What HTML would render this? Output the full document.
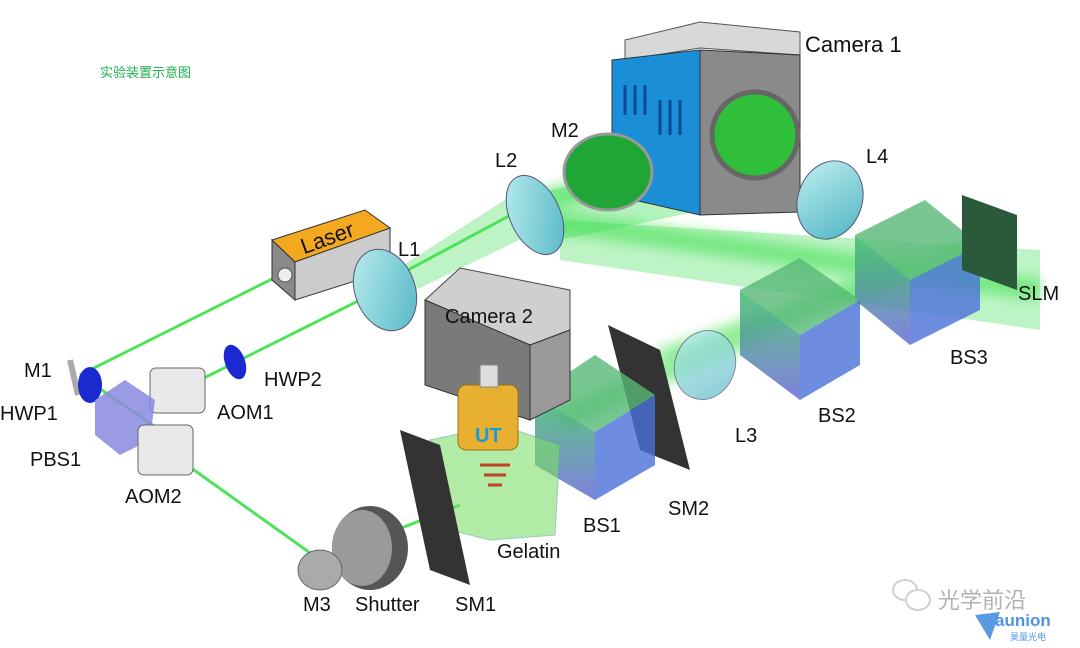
<!DOCTYPE html>
<html><head><meta charset="utf-8"><style>
html,body{margin:0;padding:0;background:#fff;width:1080px;height:648px;overflow:hidden}
svg{display:block}
text{font-family:"Liberation Sans","Noto Sans CJK SC",sans-serif}
</style></head><body>
<svg width="1080" height="648" viewBox="0 0 1080 648">
<defs>
<filter id="glow" x="-20%" y="-20%" width="140%" height="140%"><feGaussianBlur stdDeviation="6"/></filter>
<linearGradient id="lens" x1="0" y1="0" x2="1" y2="1"><stop offset="0" stop-color="#bfeff0"/><stop offset="1" stop-color="#4fb4c4"/></linearGradient>
<linearGradient id="cube" x1="0" y1="0" x2="0" y2="1"><stop offset="0" stop-color="#3fbf6a"/><stop offset="1" stop-color="#6a6ad8"/></linearGradient>
</defs>
<text x="100" y="77" font-size="13" fill="#1fae4e">实验装置示意图</text>

<g stroke="#3de04a" fill="none">
 <g filter="url(#glow)" opacity="0.55" stroke-width="22">
  <path d="M540 200 L780 150"/><path d="M540 220 L1040 290"/><path d="M660 360 L1000 240"/><path d="M560 420 L760 330"/>
 </g>
 <g stroke-width="3" opacity="0.9">
  <path d="M280 275 L80 375"/><path d="M80 375 L160 430"/><path d="M170 395 L360 300"/>
  <path d="M180 460 L320 560"/><path d="M320 560 L460 505"/><path d="M380 285 L520 210"/>
 </g>
 <polygon points="380,280 520,190 540,230 395,300" fill="#44e05a" opacity="0.35" stroke="none"/>
 <polygon points="550,190 790,140 800,190 560,240" fill="#44e05a" opacity="0.4" stroke="none"/>
 <polygon points="560,220 1040,250 1040,330 560,260" fill="#44e05a" opacity="0.35" stroke="none"/>
</g>

<g>
 <polygon points="625,40 700,22 800,32 800,55 700,48 625,60" fill="#d8d8d8" stroke="#555"/>
 <polygon points="612,60 700,50 700,215 612,195" fill="#1a8fd8" stroke="#333"/>
 <polygon points="700,50 800,55 800,212 700,215" fill="#8a8a8a" stroke="#333"/>
 <circle cx="755" cy="135" r="43" fill="#2fbf3a" stroke="#666" stroke-width="5"/>
 <g stroke="#0a4a90" stroke-width="3"><path d="M625 85 v30M635 85 v30M645 85 v30M660 100 v35M670 100 v35M680 100 v35"/></g>
</g>
<text x="805" y="52" font-size="22" fill="#111">Camera 1</text>

<ellipse cx="608" cy="172" rx="44" ry="38" fill="#1fa637" stroke="#999" stroke-width="3"/>
<text x="551" y="137" font-size="20" fill="#111">M2</text>
<ellipse cx="535" cy="215" rx="25" ry="42" transform="rotate(-25 535 215)" fill="url(#lens)" stroke="#557"/>
<text x="495" y="167" font-size="20" fill="#111">L2</text>
<ellipse cx="830" cy="200" rx="32" ry="40" transform="rotate(20 830 200)" fill="url(#lens)" stroke="#557"/>
<text x="866" y="163" font-size="20" fill="#111">L4</text>

<g>
 <polygon points="855,235 925,200 980,245 910,280" fill="#58b878" opacity="0.8"/>
 <polygon points="855,235 910,280 910,345 855,300" fill="url(#cube)" opacity="0.85"/>
 <polygon points="910,280 980,245 980,310 910,345" fill="#4a70d8" opacity="0.8"/>
</g>
<polygon points="962,195 1017,215 1017,290 962,270" fill="#2a5a3a"/>
<text x="1018" y="300" font-size="20" fill="#111">SLM</text>
<text x="950" y="364" font-size="20" fill="#111">BS3</text>

<g>
 <polygon points="740,290 800,258 860,300 800,335" fill="#58b878" opacity="0.8"/>
 <polygon points="740,290 800,335 800,400 740,355" fill="url(#cube)" opacity="0.85"/>
 <polygon points="800,335 860,300 860,365 800,400" fill="#4a70d8" opacity="0.8"/>
</g>
<text x="818" y="422" font-size="20" fill="#111">BS2</text>
<ellipse cx="705" cy="365" rx="30" ry="35" transform="rotate(20 705 365)" fill="url(#lens)" opacity="0.7" stroke="#557"/>
<text x="735" y="442" font-size="20" fill="#111">L3</text>

<polygon points="608,325 660,350 690,470 640,450" fill="#333"/>
<text x="668" y="515" font-size="20" fill="#111">SM2</text>
<g>
 <polygon points="535,395 595,355 655,395 595,432" fill="#58b878" opacity="0.8"/>
 <polygon points="535,395 595,432 595,500 535,465" fill="url(#cube)" opacity="0.85"/>
 <polygon points="595,432 655,395 655,465 595,500" fill="#4a70d8" opacity="0.8"/>
</g>
<text x="583" y="532" font-size="20" fill="#111">BS1</text>

<g>
 <polygon points="425,300 460,268 570,290 570,330 530,345" fill="#cfcfcf" stroke="#444"/>
 <polygon points="425,300 530,345 530,420 425,385" fill="#7a7a7a" stroke="#333"/>
 <polygon points="530,345 570,330 570,400 530,420" fill="#9a9a9a" stroke="#333"/>
</g>
<text x="445" y="323" font-size="20" fill="#111">Camera 2</text>
<polygon points="430,440 500,425 560,445 555,535 490,540 430,525" fill="#7ede6a" opacity="0.6" stroke="#5a9"/>
<text x="497" y="558" font-size="20" fill="#111">Gelatin</text>
<g>
 <rect x="458" y="385" width="60" height="65" rx="8" fill="#e8b030" stroke="#a07010"/>
 <rect x="480" y="365" width="18" height="22" fill="#ddd" stroke="#888"/>
 <path d="M480 465 h30 M484 475 h22 M488 485 h14" stroke="#c04020" stroke-width="3"/>
</g>
<text x="475" y="442" font-size="20" font-weight="bold" fill="#1a9ad8">UT</text>

<polygon points="400,430 440,445 470,585 430,570" fill="#333"/>
<text x="455" y="611" font-size="20" fill="#111">SM1</text>
<ellipse cx="370" cy="548" rx="38" ry="42" fill="#555"/>
<ellipse cx="362" cy="548" rx="30" ry="38" fill="#9a9a9a"/>
<text x="355" y="611" font-size="20" fill="#111">Shutter</text>
<ellipse cx="320" cy="570" rx="22" ry="20" fill="#aaa" stroke="#666"/>
<text x="303" y="611" font-size="20" fill="#111">M3</text>

<g>
 <polygon points="272,240 365,210 390,228 295,262" fill="#f4a820" stroke="#333"/>
 <polygon points="272,240 295,262 295,300 272,280" fill="#8a8a8a" stroke="#333"/>
 <polygon points="295,262 390,228 390,270 295,300" fill="#ccc" stroke="#333"/>
 <circle cx="285" cy="275" r="7" fill="#eee" stroke="#555"/>
</g>
<text x="300" y="248" font-size="22" fill="#111" transform="rotate(-20 320 240)">Laser</text>
<ellipse cx="385" cy="290" rx="30" ry="42" transform="rotate(-20 385 290)" fill="url(#lens)" stroke="#557"/>
<text x="398" y="256" font-size="20" fill="#111">L1</text>

<ellipse cx="235" cy="362" rx="10" ry="18" transform="rotate(-20 235 362)" fill="#1a2ad0"/>
<text x="264" y="386" font-size="20" fill="#111">HWP2</text>
<rect x="150" y="368" width="55" height="45" rx="6" fill="#e8e8e8" stroke="#666"/>
<text x="217" y="419" font-size="20" fill="#111">AOM1</text>
<path d="M70 360 L78 395" stroke="#aaa" stroke-width="6"/>
<text x="24" y="377" font-size="20" fill="#111">M1</text>
<ellipse cx="90" cy="385" rx="12" ry="18" fill="#1a2ad0"/>
<text x="0" y="420" font-size="20" fill="#111">HWP1</text>
<polygon points="95,400 125,380 155,400 150,440 120,455 95,435" fill="#8a8ae0" opacity="0.85"/>
<text x="30" y="466" font-size="20" fill="#111">PBS1</text>
<rect x="138" y="425" width="55" height="50" rx="6" fill="#e8e8e8" stroke="#666"/>
<text x="125" y="503" font-size="20" fill="#111">AOM2</text>

<g opacity="0.9">
 <ellipse cx="905" cy="590" rx="12" ry="10" fill="none" stroke="#ccc" stroke-width="2"/>
 <ellipse cx="918" cy="600" rx="12" ry="10" fill="#fff" stroke="#ccc" stroke-width="2"/>
 <text x="938" y="608" font-size="22" fill="#aaa">光学前沿</text>
 <polygon points="975,615 1000,612 990,640" fill="#4a90e0"/>
 <text x="995" y="626" font-size="17" font-weight="bold" fill="#3a88e0">aunion</text>
 <text x="1010" y="640" font-size="9" fill="#3a88e0">昊量光电</text>
</g>
</svg>
</body></html>
